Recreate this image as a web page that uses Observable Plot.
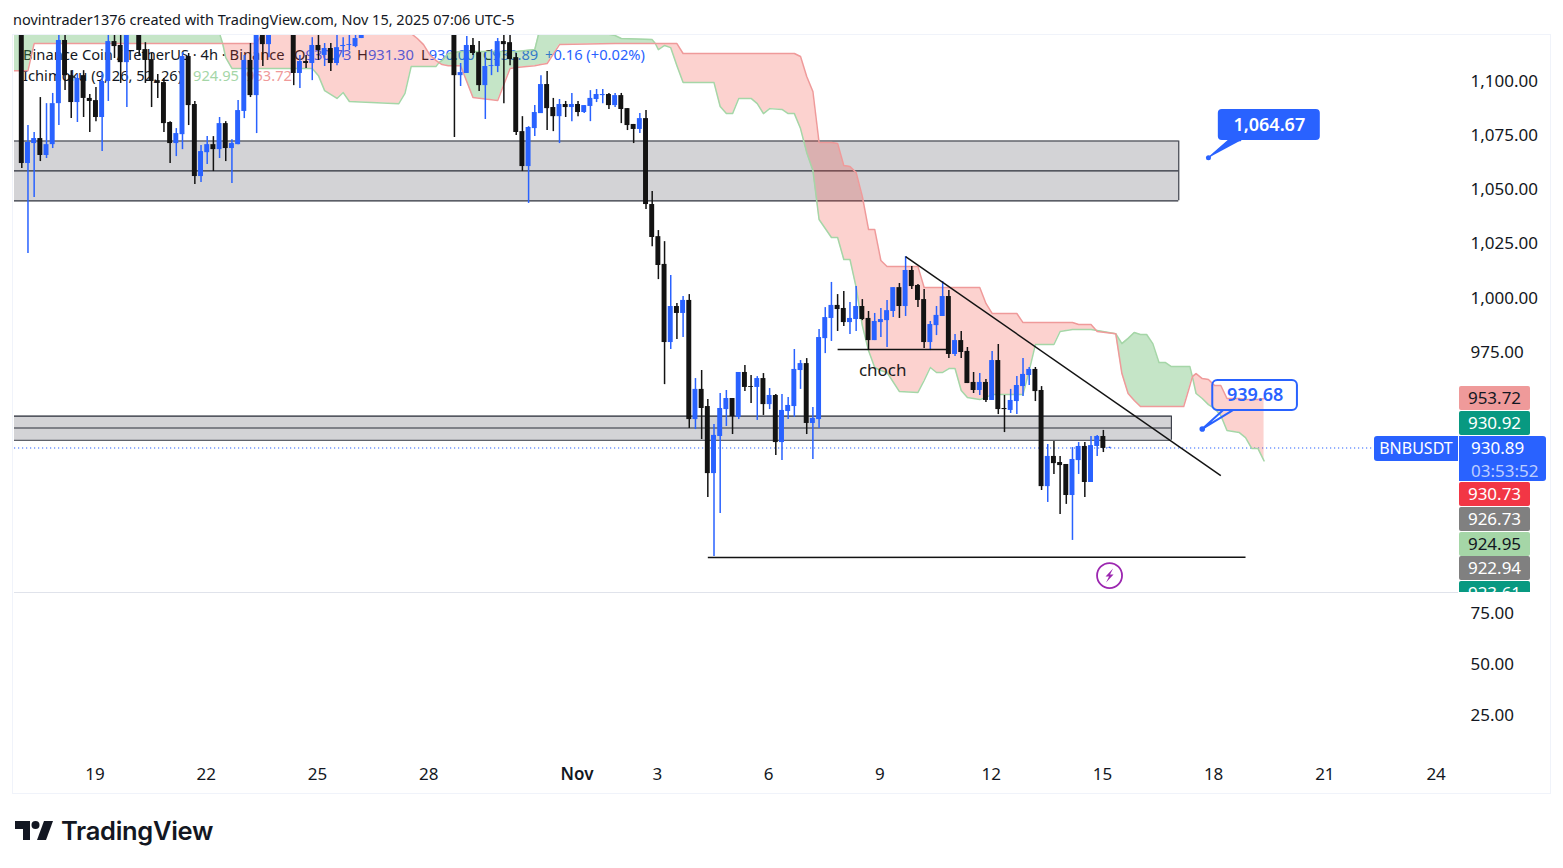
<!DOCTYPE html>
<html>
<head>
<meta charset="utf-8">
<script src="https://cdn.jsdelivr.net/npm/d3@7"></script>
<script src="https://cdn.jsdelivr.net/npm/@observablehq/plot@0.6"></script>
<style>
html,body{margin:0;padding:0;background:#fff;overflow:hidden;width:1563px;height:868px;font-family:"Noto Sans",sans-serif;color:#131722}
.abs{position:absolute;white-space:nowrap}
#frame{position:absolute;left:12px;top:34px;width:1537px;height:758px;border:1.5px solid #f0f3fa;}
#main,#lower{position:absolute;left:0;z-index:2}
#main{top:0}
#lower{top:592px}
.tag{position:absolute;left:1459px;width:71px;text-align:center;font-size:17px;border-radius:2px;z-index:3;line-height:24px}
#tagclip{position:absolute;left:0;top:0;width:1563px;height:592px;overflow:hidden;z-index:3}
.leg{position:absolute;top:44px;font-size:14.7px;line-height:21px;z-index:1;white-space:nowrap}
</style>
</head>
<body>
<div id="frame"></div>
<div class="abs" style="left:13px;top:9px;font-size:14.5px;line-height:20px">novintrader1376 created with TradingView.com, Nov 15, 2025 07:06 UTC-5</div>
<div class="leg" style="left:23px">Binance Coin / TetherUS · 4h · Binance</div>
<div class="leg" style="left:294px">O<span class="v">930.73</span></div>
<div class="leg" style="left:357px">H<span class="v">931.30</span></div>
<div class="leg" style="left:421px">L<span class="v">930.00</span></div>
<div class="leg" style="left:483px">C<span class="v">930.89</span></div>
<div class="leg" style="left:545px"><span class="v">+0.16 (+0.02%)</span></div>
<div class="leg" style="left:23px;top:65px">Ichimoku (9, 26, 52, 26)</div>
<div class="leg" style="left:193px;top:65px;color:#a5d6a7">924.95</div>
<div class="leg" style="left:246px;top:65px;color:#ef9a9a">953.72</div>
<div id="main"></div>
<div id="lower"></div>
<div id="tagclip"></div>
<div class="abs" style="left:1374px;top:436px;width:84px;height:25px;background:#2962ff;color:#fff;font-size:16px;line-height:25px;text-align:center;border-radius:3px 0 0 3px;z-index:4">BNBUSDT</div>
<svg class="abs" style="left:0;top:810px" width="60" height="40">
  <path d="M15 11H30V30H23V19H15Z" fill="#131722"/>
  <circle cx="35.5" cy="15" r="4" fill="#131722"/>
  <path d="M44 11H53L46 30H37Z" fill="#131722"/>
</svg>
<div class="abs" style="left:61px;top:812px;font-family:Inter,sans-serif;font-weight:600;font-size:25.5px;line-height:38px;letter-spacing:-.3px;color:#131722">TradingView</div>
<script>
// Candles: 4h bars of BNBUSDT. Bars 56..69 sit above the visible range.
const opens=[1126,1062.0,1071.2,1073.5,1065.7,1070.7,1089.6,1118.7,1102.5,1090.1,1102.5,1092.0,1091.0,1083.2,1099.8,1118.2,1116.4,1108.5,1128,1124.2,1114.5,1109.9,1100.2,1099.3,1080.9,1071.2,1075.3,1111.3,1089.2,1056.0,1067.0,1070.7,1068.4,1080.4,1068.9,1070.7,1086.0,1109.5,1093.3,1124.2,1116.8,1124.2,1128,1125,1129,1103.5,1109.0,1108.1,1116.4,1111.8,1115.0,1108.1,1115.9,1116.4,1115.9,1119.6,
1123.3,1129,1134,1139,1144,1141,1146,1151,1147,1143,1148,1145,1138,1142,
1130,1102.5,1103.5,1116.4,1113.1,1097.9,1106.7,1106.7,1118.2,1117.7,1110.8,1076.7,1060.6,1078.1,1085.0,1098.4,1087.8,1083.6,1089.2,1087.8,1089.2,1085.5,1088.3,1091.5,1093.3,1093.8,1088.7,1093.3,1087.3,1080.0,1077.7,1082.7,1043.1,1028.3,1015.5,979.5,996.1,992.9,998.9,944.0,957.9,950.0,919.1,936.2,948.6,953.7,945.0,965.7,959.2,958.8,962.9,950.9,955.1,933.4,947.7,950.0,966.6,969.8,942.2,944.0,981.3,990.6,996.6,995.2,988.7,990.1,996.1,990.6,980.4,988.7,989.6,993.8,1004.8,996.1,1012.7,1005.8,999.3,979.5,987.3,991.5,1000.7,974.0,980.4,975.4,961.1,957.4,961.1,952.8,971.2,949.1,948.2,952.3,959.2,964.3,967.1,957.4,913.1,927.0,924.2,923.3,909.0,925.1,931.6,915.0,931.6,936.2,930.73];
const highs=[1130,1079.5,1076.3,1092.4,1089.6,1094.3,1121.9,1123.3,1104.8,1103.0,1104.8,1093.8,1097.0,1103.9,1123.3,1123.3,1123.3,1130,1131,1126,1117.7,1112.7,1103.0,1101.2,1081.3,1078.1,1113.1,1112.7,1090.6,1070.3,1074.4,1074.4,1083.2,1081.3,1073.0,1091.0,1111.8,1117.3,1128,1127,1126,1131,1131,1132,1131,1111.8,1111.8,1120.0,1121.0,1117.3,1117.3,1121.9,1120.0,1121.9,1121.9,1125,
1132,1136,1142,1147,1150,1148,1155,1158,1153,1150,1154,1151,1146,1147,
1134,1108.1,1120.5,1119.6,1118.2,1113.1,1114.5,1119.6,1121.0,1121.4,1112.7,1083.6,1079.0,1088.7,1102.5,1104.4,1092.0,1091.5,1090.6,1094.3,1090.6,1088.7,1095.6,1096.1,1096.1,1094.3,1094.3,1094.3,1087.3,1080.0,1085.0,1086.4,1049.1,1031.1,1026.0,1010.4,997.5,1000.7,1001.6,962.9,966.6,953.2,941.7,956.0,957.4,953.7,965.7,968.9,964.3,963.8,965.2,958.3,955.6,955.6,954.2,976.3,971.2,972.1,949.6,985.5,995.6,1007.2,1001.6,1003.0,997.9,1005.3,999.3,993.8,992.9,995.2,998.9,1004.8,1006.7,1019.1,1014.5,1006.2,1003.9,989.2,996.1,1007.6,1003.5,983.2,984.6,977.2,965.7,965.2,962.5,975.4,978.6,955.1,957.9,963.8,972.1,968.0,968.0,959.2,932.5,933.9,927.0,923.3,931.1,933.4,933.4,936.2,936.7,939.0,931.30];
const lows=[1059.7,1020.5,1046.3,1062.9,1064.3,1068.9,1079.5,1095.6,1082.7,1080.9,1083.2,1076.3,1081.3,1067.5,1090.6,1110.4,1098.9,1087.8,1121.0,1111.8,1098.9,1087.8,1092.0,1076.3,1062.0,1065.2,1068.4,1079.5,1052.3,1053.2,1061.5,1058.3,1064.3,1062.9,1052.8,1070.7,1082.7,1092.4,1075.8,1106.7,1110.8,1122.5,1121.4,1121.5,1097.9,1096.6,1105.8,1100.2,1109.5,1106.7,1104.4,1107.1,1110.8,1114.1,1115.4,1119.6,
1122.5,1126,1130,1135,1138,1135,1142,1145,1140,1136,1141,1134,1130,1127,
1074.0,1097.5,1103.5,1111.8,1095.2,1082.3,1102.5,1103.9,1089.6,1107.1,1074.9,1058.3,1043.6,1074.4,1085.0,1077.2,1076.7,1071.2,1083.2,1081.3,1083.6,1085.0,1081.3,1090.1,1089.6,1086.9,1087.8,1080.4,1077.2,1071.2,1075.8,1040.8,1023.7,1008.5,960.1,976.3,980.9,981.8,939.9,939.4,934.8,908.1,880.9,900.7,940.8,937.1,944.0,956.9,951.4,943.6,945.9,948.6,927.4,925.1,944.0,945.0,957.9,937.1,925.6,939.9,974.4,980.0,984.6,986.9,983.2,984.6,989.6,976.3,980.4,981.8,977.2,991.0,990.6,991.5,1003.9,995.6,976.7,975.8,982.7,991.5,972.1,973.1,972.1,960.6,956.0,955.1,951.9,952.8,946.3,938.0,946.8,946.3,954.6,959.7,952.3,911.3,905.8,918.7,900.2,904.9,888.3,918.7,908.1,915.0,927.0,928.8,930.6];
const closes=[1062.0,1071.7,1073.5,1065.7,1070.7,1089.6,1118.7,1102.5,1090.1,1101.2,1092.0,1090.6,1083.2,1099.8,1118.2,1115.9,1108.5,1125.6,1124.2,1114.1,1109.5,1099.8,1098.9,1080.4,1071.2,1075.8,1111.3,1088.7,1056.0,1067.5,1070.7,1068.4,1080.4,1068.9,1071.2,1086.4,1109.5,1093.3,1124.2,1116.8,1124.2,1128,1125,1129,1103.5,1109.0,1108.1,1116.4,1114.1,1115.0,1108.1,1115.4,1116.4,1116.8,1119.6,1123.3,
1129,1134,1139,1144,1141,1146,1151,1147,1143,1148,1145,1138,1142,1131,
1102.5,1103.9,1116.4,1112.7,1097.9,1106.7,1107.1,1118.2,1116.8,1109.9,1076.3,1060.6,1078.6,1085.5,1098.4,1087.3,1083.6,1089.2,1087.8,1089.2,1085.5,1088.7,1092.0,1093.8,1093.8,1088.7,1093.3,1086.9,1079.5,1077.7,1082.7,1043.1,1027.9,1015.0,979.5,996.1,992.9,998.9,944.0,957.9,949.1,919.1,936.7,949.1,953.7,945.4,965.7,958.8,958.8,962.9,950.9,955.1,933.4,948.2,950.5,967.1,969.8,942.2,944.5,981.8,991.0,996.6,994.7,988.7,990.6,996.1,990.1,980.4,989.2,990.1,994.2,1004.8,996.1,1012.7,1005.3,998.9,979.5,987.8,992.0,1000.7,974.0,980.4,974.9,960.6,957.4,961.1,952.8,971.2,948.6,948.6,952.8,959.7,964.8,967.1,956.9,913.1,927.0,923.7,922.8,909.0,925.6,931.6,915.0,932.0,936.2,930.7,930.89];

// Ichimoku cloud vertices: bar index, leading span A, leading span B (the cloud runs 26 bars past the last candle).
const cloudBars=[-2,1,2,32,32.5,33,34,38,39,47,48,49,51,52,53,61,62,63,64,65,66,67,67.5,68,69,71,73,77,79,80,83,84,85,87,96,97,102,102.5,103,104,105,106,107,112,113,114,115,116,118,119,120,121,123,124,125,126,127,128,129,131,132,133,134,135,136,137,138,139,140,142,145,146,147,148,149,150,151,152,153,155,156,157,161,162,163,164,167,168,170,171,173,174,177,178,179,180,181,182,183,184,185,186,188,189,189.4,190,191,192,193,194,195,197,198,199,200,201];
const spanA=[1128,1128,1128,1121.9,1117.3,1110.8,1105.8,1105.8,1105.8,1105.8,1102.5,1095.6,1092.0,1094.7,1090.6,1089.6,1094.3,1106.7,1106.7,1106.7,1106.7,1106.7,1108.5,1109.5,1112.7,1113.6,1113.6,1113.6,1113.6,1113.6,1114.5,1126,1126,1126,1121.0,1119.6,1119.1,1117.3,1114.5,1116.4,1115.4,1107.1,1099.3,1099.3,1088.3,1085.0,1085.0,1092.0,1092.0,1089.6,1085.0,1087.3,1086.9,1085.0,1085.0,1078.1,1067.0,1058.8,1036.2,1027.9,1027.9,1017.8,1017.8,1004.9,987.3,975.8,968.0,966.6,965.7,956.9,956.5,962.0,968.0,965.7,965.7,967.5,967.5,957.4,954.2,953.2,954.2,955.6,955.6,955.6,966.6,978.6,978.6,984.6,985.5,985.5,985.5,985.0,983.6,979.0,981.4,984.1,983.2,983.2,979.0,970.3,970.3,968.4,968.4,968.4,963.8,956.0,953.7,950.9,949.1,945.9,939.0,938.0,935.7,930.7,930.7,924.95];
const spanB=[1104.8,1104.8,1117.3,1117.3,1117.3,1117.3,1117.3,1117.3,1122.4,1122.4,1122.4,1122.4,1122.4,1122.4,1122.4,1122.4,1122.4,1121.9,1119.6,1116.8,1112.2,1109.5,1108.5,1107.6,1107.1,1107.1,1092.4,1091.0,1105.8,1106.2,1107.1,1107.6,1108.1,1116.8,1117.3,1117.3,1117.3,1117.3,1117.3,1117.3,1117.3,1117.3,1112.7,1112.7,1112.7,1112.7,1112.7,1112.7,1112.7,1112.7,1112.7,1112.7,1112.7,1112.7,1112.7,1111.3,1102.1,1095.2,1071.7,1071.7,1071.2,1061.1,1060.6,1057.8,1046.8,1031.6,1031.6,1017.3,1014.5,1014.5,1014.5,1004.9,1004.9,1004.9,1004.9,1004.9,1004.9,1004.9,1004.9,1004.9,997.5,992.9,992.9,988.7,988.7,988.7,988.7,988.7,988.7,987.8,987.8,984.6,983.6,965.2,956.0,952.8,950.0,950.0,950.0,950.0,950.0,950.0,950.0,959.7,963.8,965.2,962.9,962.5,959.7,959.7,953.7,953.7,953.2,953.2,953.2,953.72];

// Drawn zones
const zoneTop=[1072.4,945.6], zoneMid=[1058.6,940.1], zoneBottom=[1044.8,934.5], zoneEnd=[187.2,186];
// Drawn lines
const lineStartBar=[143,111,132], lineStartPrice=[1019.1,880.4,976.3], lineEndBar=[194,198,150], lineEndPrice=[918.2,880.6,976.3];
// Axis values
const priceTicks=[975,1000,1025,1050,1075,1100];
const lowerTicks=[25,50,75];
const timeTickBars=[12,30,48,66,90,103,121,139,157,175,193,211,229];
const timeTickLabels=["19","22","25","28","Nov","3","6","9","12","15","18","21","24"];
// Price tags at the right edge
const tagValues=["953.72","930.92","930.73","926.73","924.95","922.94","923.61"];
const tagKinds=["cloudDown","up","down","grey","cloudUp","grey","up"];
const lastPrice=930.89, countdown="03:53:52";
// Target prices of the two projections
const target1=1064.67, target2=939.68;

const BLUE="#2962ff", BLACK="#131313";
const candles=opens.map((o,i)=>({i,o,h:highs[i],l:lows[i],c:closes[i],col:closes[i]>=o?BLUE:BLACK}));
const cloud=cloudBars.map((i,k)=>({i,a:spanA[k],b:spanB[k]}));
const zones=zoneTop.map((t,k)=>({t,m:zoneMid[k],b:zoneBottom[k],e:zoneEnd[k]}));
const lines=lineStartBar.map((x1,k)=>({x1,y1:lineStartPrice[k],x2:lineEndBar[k],y2:lineEndPrice[k]}));
const XDOM=[-1.18,232.46];
const ZONELEFT=-1.18;
const FONT='"Noto Sans",sans-serif';
const boltSymbol={draw(c){
  c.moveTo(3.5,-7);c.lineTo(-4,1);c.lineTo(-0.5,1);c.lineTo(-3.5,7);c.lineTo(4,-1);c.lineTo(0.5,-1);c.closePath();
}};

const main=Plot.plot({
  width:1563,height:592,marginTop:35,marginBottom:0,marginLeft:14,marginRight:105,
  style:{fontFamily:FONT,background:"transparent",overflow:"visible"},
  x:{domain:XDOM,axis:null},
  y:{domain:[864.3,1121],axis:null},
  marks:[
    Plot.ruleY([lastPrice],{stroke:BLUE,strokeWidth:1.2,strokeDasharray:"1.2,2.8",clip:true}),
    Plot.rect(zones,{x1:ZONELEFT,x2:"e",y1:"b",y2:"t",fill:"#d3d3d6",clip:true}),
    Plot.ruleY(zones,{y:"t",x1:ZONELEFT,x2:"e",stroke:"#2a2e39",strokeWidth:1.1}),
    Plot.ruleY(zones,{y:"m",x1:ZONELEFT,x2:"e",stroke:"#2a2e39",strokeWidth:1.1}),
    Plot.ruleY(zones,{y:"b",x1:ZONELEFT,x2:"e",stroke:"#2a2e39",strokeWidth:1.1}),
    Plot.ruleX(zones,{x:"e",y1:"b",y2:"t",stroke:"#2a2e39",strokeWidth:1.1}),
    Plot.areaY(cloud,{x:"i",y1:"a",y2:d=>Math.max(d.a,d.b),fill:"#f44336",fillOpacity:.24,clip:true}),
    Plot.areaY(cloud,{x:"i",y1:"a",y2:d=>Math.min(d.a,d.b),fill:"#4caf50",fillOpacity:.32,clip:true}),
    Plot.line(cloud,{x:"i",y:"a",stroke:"#a5d6a7",strokeWidth:1.5,clip:true}),
    Plot.line(cloud,{x:"i",y:"b",stroke:"#ef9a9a",strokeWidth:1.5,clip:true}),
    Plot.ruleX(candles,{x:"i",y1:"l",y2:"h",stroke:"col",strokeWidth:1.5,clip:true}),
    Plot.rectY(candles,{x1:d=>d.i-.4,x2:d=>d.i+.4,y1:"o",y2:"c",fill:"col",clip:true}),
    Plot.link(lines,{x1:"x1",y1:"y1",x2:"x2",y2:"y2",stroke:"#131313",strokeWidth:1.5}),
    Plot.text(["choch"],{x:[139.3],y:[966.6],fontSize:17,fill:"#1a1a1a"}),
    // projection labels
    Plot.line([{x:192,y:target1},{x:195.2,y:1072.6},{x:197.2,y:1072.6}],{x:"x",y:"y",stroke:BLUE,fill:BLUE,strokeWidth:1.5}),
    Plot.dot([{x:192,y:target1}],{x:"x",y:"y",r:2.5,fill:BLUE}),
    Plot.rect([0],{x1:193.6,x2:210.1,y1:1072.6,y2:1086.9,fill:BLUE,rx:4}),
    Plot.text([d3.format(",.2f")(target1)],{x:[201.85],y:[1079.8],fill:"#fff",fontSize:18,fontWeight:600}),
    Plot.line([{x:194.3,y:948.2},{x:191,y:target2},{x:195.9,y:948.2}],{x:"x",y:"y",stroke:BLUE,strokeWidth:2,fill:"none"}),
    Plot.dot([{x:191,y:target2}],{x:"x",y:"y",r:2.8,fill:BLUE}),
    Plot.rect([0],{x1:192.7,x2:206.4,y1:948.2,y2:962.0,fill:"none",stroke:BLUE,strokeWidth:2,rx:5}),
    Plot.text([d3.format(".2f")(target2)],{x:[199.55],y:[955.1],fill:BLUE,fontSize:18,fontWeight:600}),
    // bolt marker
    Plot.dot([0],{x:[176],y:[872.1],r:12.5,stroke:"#9c27b0",strokeWidth:1.8,fill:"#fff"}),
    Plot.dot([0],{x:[176],y:[872.1],r:7,symbol:boltSymbol,fill:"#9c27b0",stroke:"none"}),
    Plot.axisY(priceTicks,{anchor:"right",tickSize:0,tickPadding:12,tickFormat:",.2f",fontSize:17,label:null,fill:"#131722",textAnchor:"start"}),
    Plot.ruleY([864.3],{stroke:"#e0e3eb",strokeWidth:1})
  ]
});
document.getElementById("main").append(main);

const lower=Plot.plot({
  width:1563,height:200,marginTop:1,marginBottom:37,marginLeft:14,marginRight:105,
  style:{fontFamily:FONT,background:"transparent",overflow:"visible"},
  x:{domain:XDOM,axis:null},
  y:{domain:[5.4,84.8],axis:null},
  marks:[
    Plot.axisY(lowerTicks,{anchor:"right",tickSize:0,tickPadding:12,fontSize:17,label:null,tickFormat:".2f",fill:"#131722",textAnchor:"start"}),
    Plot.axisX(timeTickBars,{anchor:"bottom",tickSize:0,tickPadding:12,fontSize:17,label:null,fill:"#131722",dx:-1,
      tickFormat:d=>timeTickLabels[timeTickBars.indexOf(d)]})
  ]
});
document.getElementById("lower").append(lower);
lower.querySelectorAll("text").forEach(t=>{ if(t.textContent==="Nov") t.setAttribute("font-weight",600); });

// value spans
document.querySelectorAll(".v").forEach(s=>s.style.color=BLUE);

// right-edge tags
const kinds={cloudDown:["#ef9a9a","#131722"],up:["#089981","#fff"],down:["#f23645","#fff"],grey:["#808080","#fff"],cloudUp:["#a5d6a7","#131722"]};
const tagTops=[386,411,482,507,532,556,581];
const clip=document.getElementById("tagclip");
tagValues.forEach((v,k)=>{
  const el=document.createElement("div");
  el.className="tag";el.textContent=v;
  el.style.top=tagTops[k]+"px";el.style.height="24px";
  el.style.background=kinds[tagKinds[k]][0];el.style.color=kinds[tagKinds[k]][1];
  clip.append(el);
});
const last=document.createElement("div");
last.className="tag";
last.style.cssText="top:436px;width:87px;height:45px;background:#2962ff;color:#fff;border-radius:0 3px 3px 0;line-height:23px;text-align:left;padding-left:12px;box-sizing:border-box;";
last.innerHTML=`<div>${lastPrice}</div><div style="color:rgba(255,255,255,.7)">${countdown}</div>`;
clip.append(last);
</script>
</body>
</html>
